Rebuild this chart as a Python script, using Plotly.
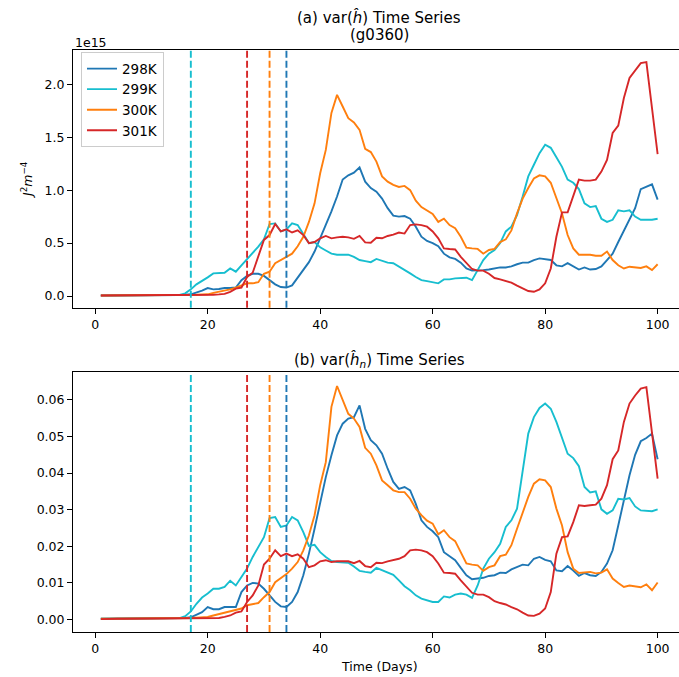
import numpy as np
import plotly.graph_objects as go

# ---------------------------------------------------------------------------
# Daily variance series, days 1..100
# ---------------------------------------------------------------------------
days = list(range(1, 101))

labels = ["298K", "299K", "300K", "301K"]
colors = ["#1f77b4", "#17becf", "#ff7f0e", "#d62728"]

# onset day of each run (vertical dashed markers)
onset_days = [34, 17, 31, 27]

# (a) var(h_hat), in units of 1e15 J^2 m^-4
var_h_298 = [
    0.005, 0.005, 0.005, 0.005, 0.005, 0.006, 0.006, 0.006, 0.007, 0.007,
    0.008, 0.008, 0.009, 0.010, 0.011, 0.012, 0.016, 0.03, 0.05, 0.075,
    0.063, 0.066, 0.075, 0.075, 0.08, 0.15, 0.19, 0.21, 0.21, 0.19,
    0.15, 0.11, 0.085, 0.08, 0.10, 0.17, 0.245, 0.32, 0.42, 0.545,
    0.67, 0.80, 0.94, 1.10, 1.14, 1.165, 1.215, 1.08, 1.02, 0.985,
    0.92, 0.83, 0.76, 0.75, 0.755, 0.73, 0.655, 0.56, 0.52, 0.50,
    0.47, 0.40, 0.365, 0.35, 0.315, 0.26, 0.24, 0.24, 0.245, 0.25,
    0.26, 0.27, 0.27, 0.28, 0.30, 0.315, 0.315, 0.34, 0.355, 0.35,
    0.34, 0.29, 0.28, 0.31, 0.28, 0.25, 0.27, 0.25, 0.255, 0.28,
    0.34, 0.40, 0.51, 0.62, 0.72, 0.83, 1.01, 1.03, 1.055, 0.91,
]
var_h_299 = [
    0.005, 0.005, 0.005, 0.005, 0.005, 0.005, 0.006, 0.006, 0.006, 0.007,
    0.007, 0.008, 0.008, 0.009, 0.010, 0.025, 0.063, 0.11, 0.14, 0.176,
    0.214, 0.214, 0.22, 0.26, 0.23, 0.29, 0.346, 0.41, 0.466, 0.535,
    0.68, 0.686, 0.61, 0.63, 0.686, 0.67, 0.59, 0.50, 0.51, 0.46,
    0.43, 0.40, 0.39, 0.387, 0.39, 0.37, 0.34, 0.33, 0.32, 0.35,
    0.334, 0.315, 0.31, 0.28, 0.245, 0.214, 0.18, 0.15, 0.14, 0.13,
    0.12, 0.157, 0.157, 0.167, 0.173, 0.173, 0.15, 0.245, 0.34, 0.40,
    0.435, 0.50, 0.61, 0.655, 0.765, 0.94, 1.13, 1.24, 1.35, 1.43,
    1.40, 1.31, 1.22, 1.10, 1.07, 1.01, 0.875, 0.84, 0.85, 0.73,
    0.70, 0.72, 0.81, 0.80, 0.81, 0.75, 0.72, 0.72, 0.72, 0.73,
]
var_h_300 = [
    0.005, 0.005, 0.005, 0.005, 0.005, 0.005, 0.005, 0.005, 0.005, 0.006,
    0.006, 0.006, 0.007, 0.007, 0.008, 0.009, 0.010, 0.012, 0.014, 0.016,
    0.03, 0.04, 0.05, 0.063, 0.08, 0.10, 0.12, 0.12, 0.13, 0.21,
    0.23, 0.31, 0.34, 0.365, 0.40, 0.47, 0.56, 0.70, 0.875, 1.16,
    1.38, 1.73, 1.90, 1.79, 1.68, 1.64, 1.57, 1.39, 1.36, 1.27,
    1.13, 1.08, 1.05, 1.03, 1.04, 1.00, 0.90, 0.84, 0.81, 0.775,
    0.70, 0.73, 0.67, 0.64, 0.56, 0.457, 0.45, 0.445, 0.40, 0.435,
    0.445, 0.51, 0.535, 0.62, 0.78, 0.92, 1.02, 1.11, 1.14, 1.13,
    1.07, 0.92, 0.78, 0.576, 0.45, 0.39, 0.39, 0.39, 0.38, 0.38,
    0.42, 0.34, 0.29, 0.26, 0.277, 0.27, 0.265, 0.28, 0.245, 0.30,
]
var_h_301 = [
    0.005, 0.005, 0.005, 0.005, 0.005, 0.005, 0.005, 0.005, 0.005, 0.005,
    0.005, 0.005, 0.005, 0.005, 0.006, 0.006, 0.007, 0.007, 0.008, 0.01,
    0.012, 0.015, 0.02, 0.04, 0.07, 0.08, 0.18, 0.22, 0.37, 0.53,
    0.576, 0.68, 0.61, 0.63, 0.60, 0.62, 0.576, 0.50, 0.51, 0.545,
    0.567, 0.545, 0.554, 0.56, 0.554, 0.54, 0.567, 0.507, 0.504, 0.55,
    0.545, 0.567, 0.58, 0.60, 0.59, 0.67, 0.677, 0.67, 0.655, 0.61,
    0.545, 0.45, 0.444, 0.44, 0.37, 0.31, 0.255, 0.24, 0.24, 0.21,
    0.17, 0.157, 0.14, 0.126, 0.098, 0.072, 0.047, 0.04, 0.063, 0.12,
    0.26, 0.56, 0.79, 0.79, 0.95, 1.10, 1.09, 1.09, 1.10, 1.175,
    1.285, 1.54, 1.61, 1.87, 2.06, 2.13, 2.20, 2.21, 1.78, 1.34,
]

# (b) var(h_n_hat), listed in units of 1e-2
var_hn_298 = [
    0.02, 0.02, 0.02, 0.02, 0.02, 0.02, 0.02, 0.02, 0.02, 0.02,
    0.02, 0.03, 0.03, 0.03, 0.03, 0.04, 0.06, 0.13, 0.20, 0.34,
    0.28, 0.28, 0.34, 0.34, 0.34, 0.75, 0.93, 1.00, 0.98, 0.84,
    0.66, 0.48, 0.36, 0.34, 0.48, 0.75, 1.21, 1.80, 2.48, 3.21,
    3.89, 4.49, 5.03, 5.35, 5.49, 5.53, 5.85, 5.21, 4.90, 4.76,
    4.53, 4.12, 3.76, 3.57, 3.62, 3.53, 3.16, 2.71, 2.53, 2.41,
    2.25, 1.84, 1.73, 1.62, 1.41, 1.21, 1.10, 1.12, 1.14, 1.19,
    1.21, 1.28, 1.27, 1.37, 1.43, 1.50, 1.48, 1.66, 1.71, 1.63,
    1.59, 1.34, 1.32, 1.46, 1.34, 1.19, 1.27, 1.21, 1.19, 1.30,
    1.53, 1.89, 2.57, 3.26, 3.94, 4.50, 4.87, 4.96, 5.08, 4.38,
]
var_hn_299 = [
    0.02, 0.02, 0.02, 0.02, 0.02, 0.02, 0.02, 0.02, 0.02, 0.03,
    0.03, 0.03, 0.03, 0.04, 0.04, 0.09, 0.22, 0.43, 0.60, 0.71,
    0.84, 0.84, 0.89, 1.06, 0.93, 1.16, 1.39, 1.71, 1.98, 2.25,
    2.77, 2.80, 2.53, 2.57, 2.80, 2.71, 2.39, 2.01, 2.04, 1.84,
    1.71, 1.60, 1.57, 1.55, 1.55, 1.45, 1.33, 1.30, 1.28, 1.41,
    1.34, 1.27, 1.22, 1.07, 0.91, 0.80, 0.66, 0.57, 0.52, 0.48,
    0.48, 0.63, 0.60, 0.68, 0.71, 0.68, 0.59, 0.93, 1.39, 1.66,
    1.84, 2.07, 2.53, 2.71, 3.03, 4.03, 5.08, 5.53, 5.78, 5.90,
    5.76, 5.40, 4.99, 4.53, 4.41, 4.19, 3.62, 3.47, 3.50, 3.01,
    2.89, 2.98, 3.30, 3.28, 3.32, 3.09, 2.98, 2.96, 2.96, 3.01,
]
var_hn_300 = [
    0.02, 0.02, 0.02, 0.02, 0.02, 0.02, 0.02, 0.02, 0.02, 0.02,
    0.02, 0.02, 0.02, 0.03, 0.03, 0.03, 0.04, 0.05, 0.06, 0.07,
    0.11, 0.15, 0.19, 0.22, 0.26, 0.30, 0.39, 0.41, 0.45, 0.61,
    0.75, 1.02, 1.13, 1.24, 1.39, 1.57, 1.89, 2.30, 2.85, 3.67,
    4.30, 5.81, 6.38, 5.99, 5.62, 5.49, 5.26, 4.69, 4.53, 4.21,
    3.80, 3.67, 3.53, 3.48, 3.48, 3.30, 3.03, 2.85, 2.70, 2.62,
    2.33, 2.44, 2.25, 2.14, 1.84, 1.53, 1.50, 1.48, 1.33, 1.43,
    1.48, 1.73, 1.77, 2.03, 2.48, 2.94, 3.35, 3.71, 3.83, 3.80,
    3.62, 3.03, 2.57, 1.84, 1.39, 1.27, 1.28, 1.30, 1.26, 1.28,
    1.37, 1.12, 1.00, 0.89, 0.93, 0.91, 0.88, 0.96, 0.80, 1.01,
]
var_hn_301 = [
    0.01, 0.02, 0.02, 0.02, 0.02, 0.02, 0.02, 0.02, 0.02, 0.02,
    0.02, 0.02, 0.02, 0.02, 0.03, 0.03, 0.03, 0.03, 0.03, 0.03,
    0.03, 0.04, 0.07, 0.11, 0.19, 0.22, 0.48, 0.66, 0.93, 1.50,
    1.66, 1.89, 1.73, 1.80, 1.73, 1.78, 1.66, 1.43, 1.48, 1.59,
    1.62, 1.57, 1.59, 1.60, 1.59, 1.54, 1.60, 1.46, 1.43, 1.55,
    1.54, 1.59, 1.63, 1.66, 1.73, 1.89, 1.91, 1.89, 1.84, 1.73,
    1.53, 1.28, 1.27, 1.25, 1.07, 0.89, 0.73, 0.68, 0.68, 0.61,
    0.50, 0.45, 0.41, 0.34, 0.28, 0.19, 0.11, 0.10, 0.16, 0.30,
    0.75, 1.80, 2.25, 2.27, 2.66, 3.12, 3.10, 3.12, 3.14, 3.30,
    3.67, 4.38, 4.62, 5.40, 5.90, 6.12, 6.31, 6.35, 5.12, 3.85,
]

top_series = [var_h_298, var_h_299, var_h_300, var_h_301]
bottom_series = [np.array(s) * 1e-2 for s in
                 [var_hn_298, var_hn_299, var_hn_300, var_hn_301]]

x_ticks = [0, 20, 40, 60, 80, 100]
top_ticks = [0.0, 0.5, 1.0, 1.5, 2.0]
bottom_ticks = [0.00, 0.01, 0.02, 0.03, 0.04, 0.05, 0.06]

FONT = "DejaVu Sans"
LINE_W = 1.9

fig = go.Figure()

for lab, col, ys in zip(labels, colors, top_series):
    fig.add_trace(go.Scatter(
        x=days, y=ys, mode="lines", name=lab,
        line=dict(color=col, width=LINE_W),
        xaxis="x", yaxis="y", showlegend=True,
    ))
for lab, col, ys in zip(labels, colors, bottom_series):
    fig.add_trace(go.Scatter(
        x=days, y=ys, mode="lines", name=lab,
        line=dict(color=col, width=LINE_W),
        xaxis="x2", yaxis="y2", showlegend=False,
    ))

# dashed onset markers in both panels
shapes = []
for yref in ["y domain", "y2 domain"]:
    xref = "x" if yref == "y domain" else "x2"
    for d, col in zip(onset_days, colors):
        shapes.append(dict(
            type="line", xref=xref, yref=yref, x0=d, x1=d, y0=0, y1=1,
            line=dict(color=col, width=LINE_W, dash="7px,3px"),
        ))

axis_style = dict(
    showgrid=False, zeroline=False, showline=True, linecolor="black",
    linewidth=1, ticks="outside", ticklen=5, tickwidth=1, tickcolor="black",
    tickfont=dict(family=FONT, size=12.5, color="black"),
)

X_RANGE = [-3.95, 103.8]

fig.update_layout(
    width=679, height=677,
    margin=dict(l=73, r=0, t=50, b=45),
    paper_bgcolor="white", plot_bgcolor="white",
    font=dict(family=FONT, size=12.5, color="black"),
    xaxis=dict(domain=[0, 1], anchor="y", range=X_RANGE, tickvals=x_ticks,
               mirror=True, **axis_style),
    yaxis=dict(domain=[0.5572, 1], anchor="x", range=[-0.1105, 2.324],
               tickvals=top_ticks, ticktext=[f"{v:.1f}" for v in top_ticks],
               **axis_style),
    xaxis2=dict(domain=[0, 1], anchor="y2", range=X_RANGE, tickvals=x_ticks,
                mirror=True, **axis_style),
    yaxis2=dict(domain=[0, 0.4467], anchor="x2", range=[-0.003415, 0.06762],
                tickvals=bottom_ticks,
                ticktext=[f"{v:.2f}" for v in bottom_ticks],
                **axis_style),
    legend=dict(
        x=0.0132, y=0.996, xanchor="left", yanchor="top",
        bgcolor="rgba(255,255,255,0.8)", bordercolor="#cccccc", borderwidth=1,
        font=dict(family=FONT, size=13.5, color="black"),
    ),
    shapes=shapes,
    annotations=[
        dict(text="(a) var(<i>ĥ</i>) Time Series", xref="paper", yref="paper",
             x=0.5054, y=1.0567, xanchor="center", yanchor="middle",
             showarrow=False, font=dict(family=FONT, size=15)),
        dict(text="(g0360)", xref="paper", yref="paper",
             x=0.5054, y=1.0258, xanchor="center", yanchor="middle",
             showarrow=False, font=dict(family=FONT, size=15)),
        dict(text="(b) var(<i>ĥ</i><sub><i>n</i></sub>) Time Series",
             xref="paper", yref="paper",
             x=0.5054, y=0.4674, xanchor="center", yanchor="middle",
             showarrow=False, font=dict(family=FONT, size=15)),
        dict(text="1e15", xref="paper", yref="paper", x=0.0, y=1.0137,
             xanchor="left", yanchor="middle", showarrow=False,
             font=dict(family=FONT, size=12.5)),
        dict(text="<i>J</i><sup>2</sup><i>m</i><sup>−4</sup>",
             xref="paper", yref="paper", x=-0.0759, y=0.7766,
             xanchor="center", yanchor="middle", textangle=-90,
             showarrow=False, font=dict(family=FONT, size=12.5)),
        dict(text="Time (Days)", xref="paper", yref="paper",
             x=0.5054, y=-0.0601, xanchor="center", yanchor="middle",
             showarrow=False, font=dict(family=FONT, size=12.5)),
    ],
)

fig.write_html("out.html")
